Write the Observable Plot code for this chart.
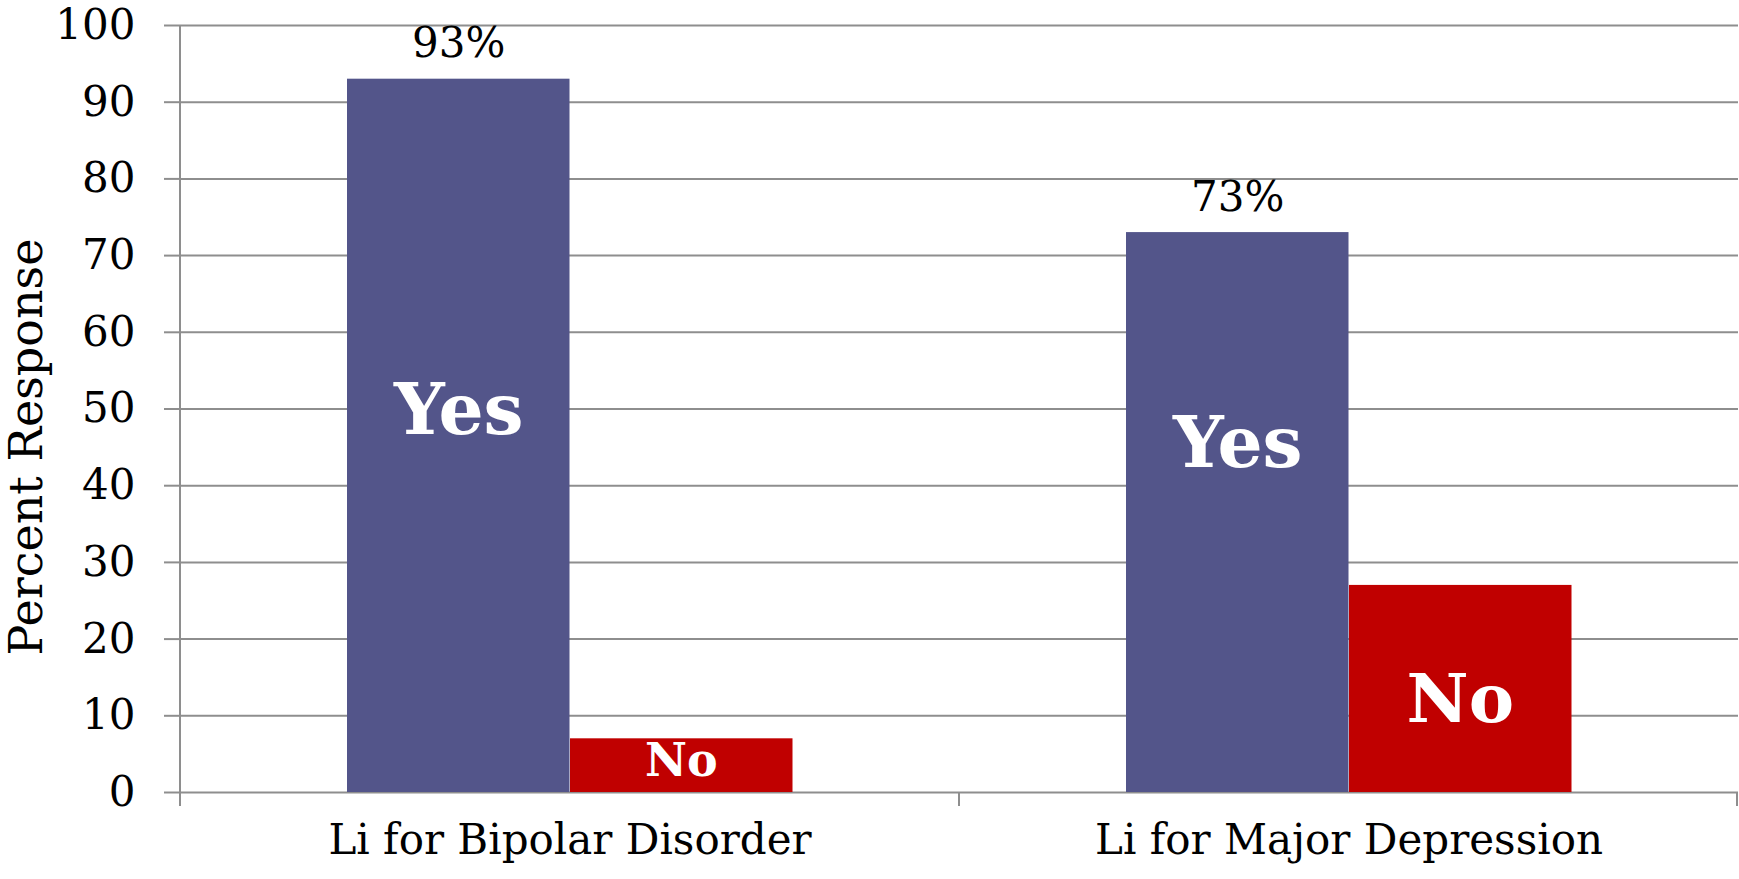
<!DOCTYPE html>
<html>
<head>
<meta charset="utf-8">
<script src="https://cdn.jsdelivr.net/npm/d3@7"></script>
<script src="https://cdn.jsdelivr.net/npm/@observablehq/plot@0.6"></script>
<style>
  html, body { margin: 0; padding: 0; background: #fff; }
  #chart svg { display: block; }
</style>
</head>
<body>
<div id="chart"></div>
<script>
// Survey: would you prescribe lithium (Li) for each indication?
const categories = ["Li for Bipolar Disorder", "Li for Major Depression"];
const responses = ["Yes", "No"];
const yesValues = [93, 73];
const noValues = [7, 27];
const yTicks = [0, 10, 20, 30, 40, 50, 60, 70, 80, 90, 100];

const rows = categories.flatMap((category, i) => [
  {category, response: "Yes", value: yesValues[i]},
  {category, response: "No", value: noValues[i]}
]);
const yesRows = rows.filter(d => d.response === "Yes");
const noRows = rows.filter(d => d.response === "No");

const gridColor = "#8E8E8E";
const colors = {Yes: "#53558A", No: "#C00000"};

// each category band: 167px gap, Yes bar 223px, No bar 223px, gap
const outer = 167, barW = 223;
const W = 1739, H = 879, mL = 179, mR = 1, mT = 25, mB = 87;
const band = (W - mL - mR) / categories.length;
const innerRight = band - outer - barW;
const shift = band / 2 - outer - barW / 2;

const font = "DejaVu Serif";

// in-bar labels, each nudged within its bar
function inBar(d, dy, size) {
  return Plot.text([d], {
    x: "category", y: r => r.value / 2, text: "response",
    dx: d.response === "Yes" ? -shift : shift, dy,
    fill: "white", fontWeight: "bold", fontSize: size, fontFamily: font
  });
}

const chart = Plot.plot({
  width: W, height: H,
  marginLeft: mL, marginRight: mR, marginTop: mT, marginBottom: mB,
  style: {fontFamily: font, fontSize: "42px", background: "white", color: "black"},
  x: {domain: categories, padding: 0, axis: null},
  y: {domain: [0, 100], axis: null},
  marks: [
    Plot.gridY(yTicks, {stroke: gridColor, strokeOpacity: 1, strokeWidth: 2}),
    Plot.axisY(yTicks, {
      tickSize: 15, tickPadding: 29, stroke: gridColor, strokeWidth: 2,
      label: null, fontSize: 42, fill: "black"
    }),
    Plot.axisX(categories, {
      tickSize: 0, tickPadding: 32, label: null, fontSize: 42, fill: "black",
      lineAnchor: "top"
    }),
    Plot.text(["Percent Response"], {
      text: d => d, frameAnchor: "left", textAnchor: "middle", rotate: -90,
      dx: -152, dy: 38, fontSize: 46, fill: "black"
    }),
    Plot.barY(yesRows, {x: "category", y: "value", fill: colors.Yes, insetLeft: outer, insetRight: innerRight}),
    Plot.barY(noRows, {x: "category", y: "value", fill: colors.No, insetLeft: outer + barW, insetRight: innerRight - barW}),
    Plot.text(yesRows, {
      x: "category", y: "value", text: d => `${d.value}%`,
      dx: -shift, dy: -22, lineAnchor: "bottom", fontSize: 42, fill: "black"
    }),
    inBar(yesRows[0], -25, 71),
    inBar(yesRows[1], -68, 71),
    inBar(noRows[0], -4, 46),
    inBar(noRows[1], 11, 68)
  ]
});

document.getElementById("chart").append(chart);

// left axis line and category boundary ticks, placed from the plot's scales
const xs = chart.scale("x"), ys = chart.scale("y");
const svg = d3.select(chart);
const deco = svg.append("g").attr("stroke", gridColor).attr("stroke-width", 2);
const y0 = ys.apply(0), yTop = ys.apply(100);
const left = xs.apply(categories[0]);
deco.append("line").attr("x1", left).attr("x2", left).attr("y1", yTop).attr("y2", y0 + 14);
categories.forEach((c, i) => {
  const edges = [xs.apply(c)];
  if (i === categories.length - 1) edges.push(xs.apply(c) + xs.bandwidth - 1);
  edges.forEach(e => deco.append("line").attr("x1", e).attr("x2", e).attr("y1", y0).attr("y2", y0 + 14));
});
</script>
</body>
</html>
